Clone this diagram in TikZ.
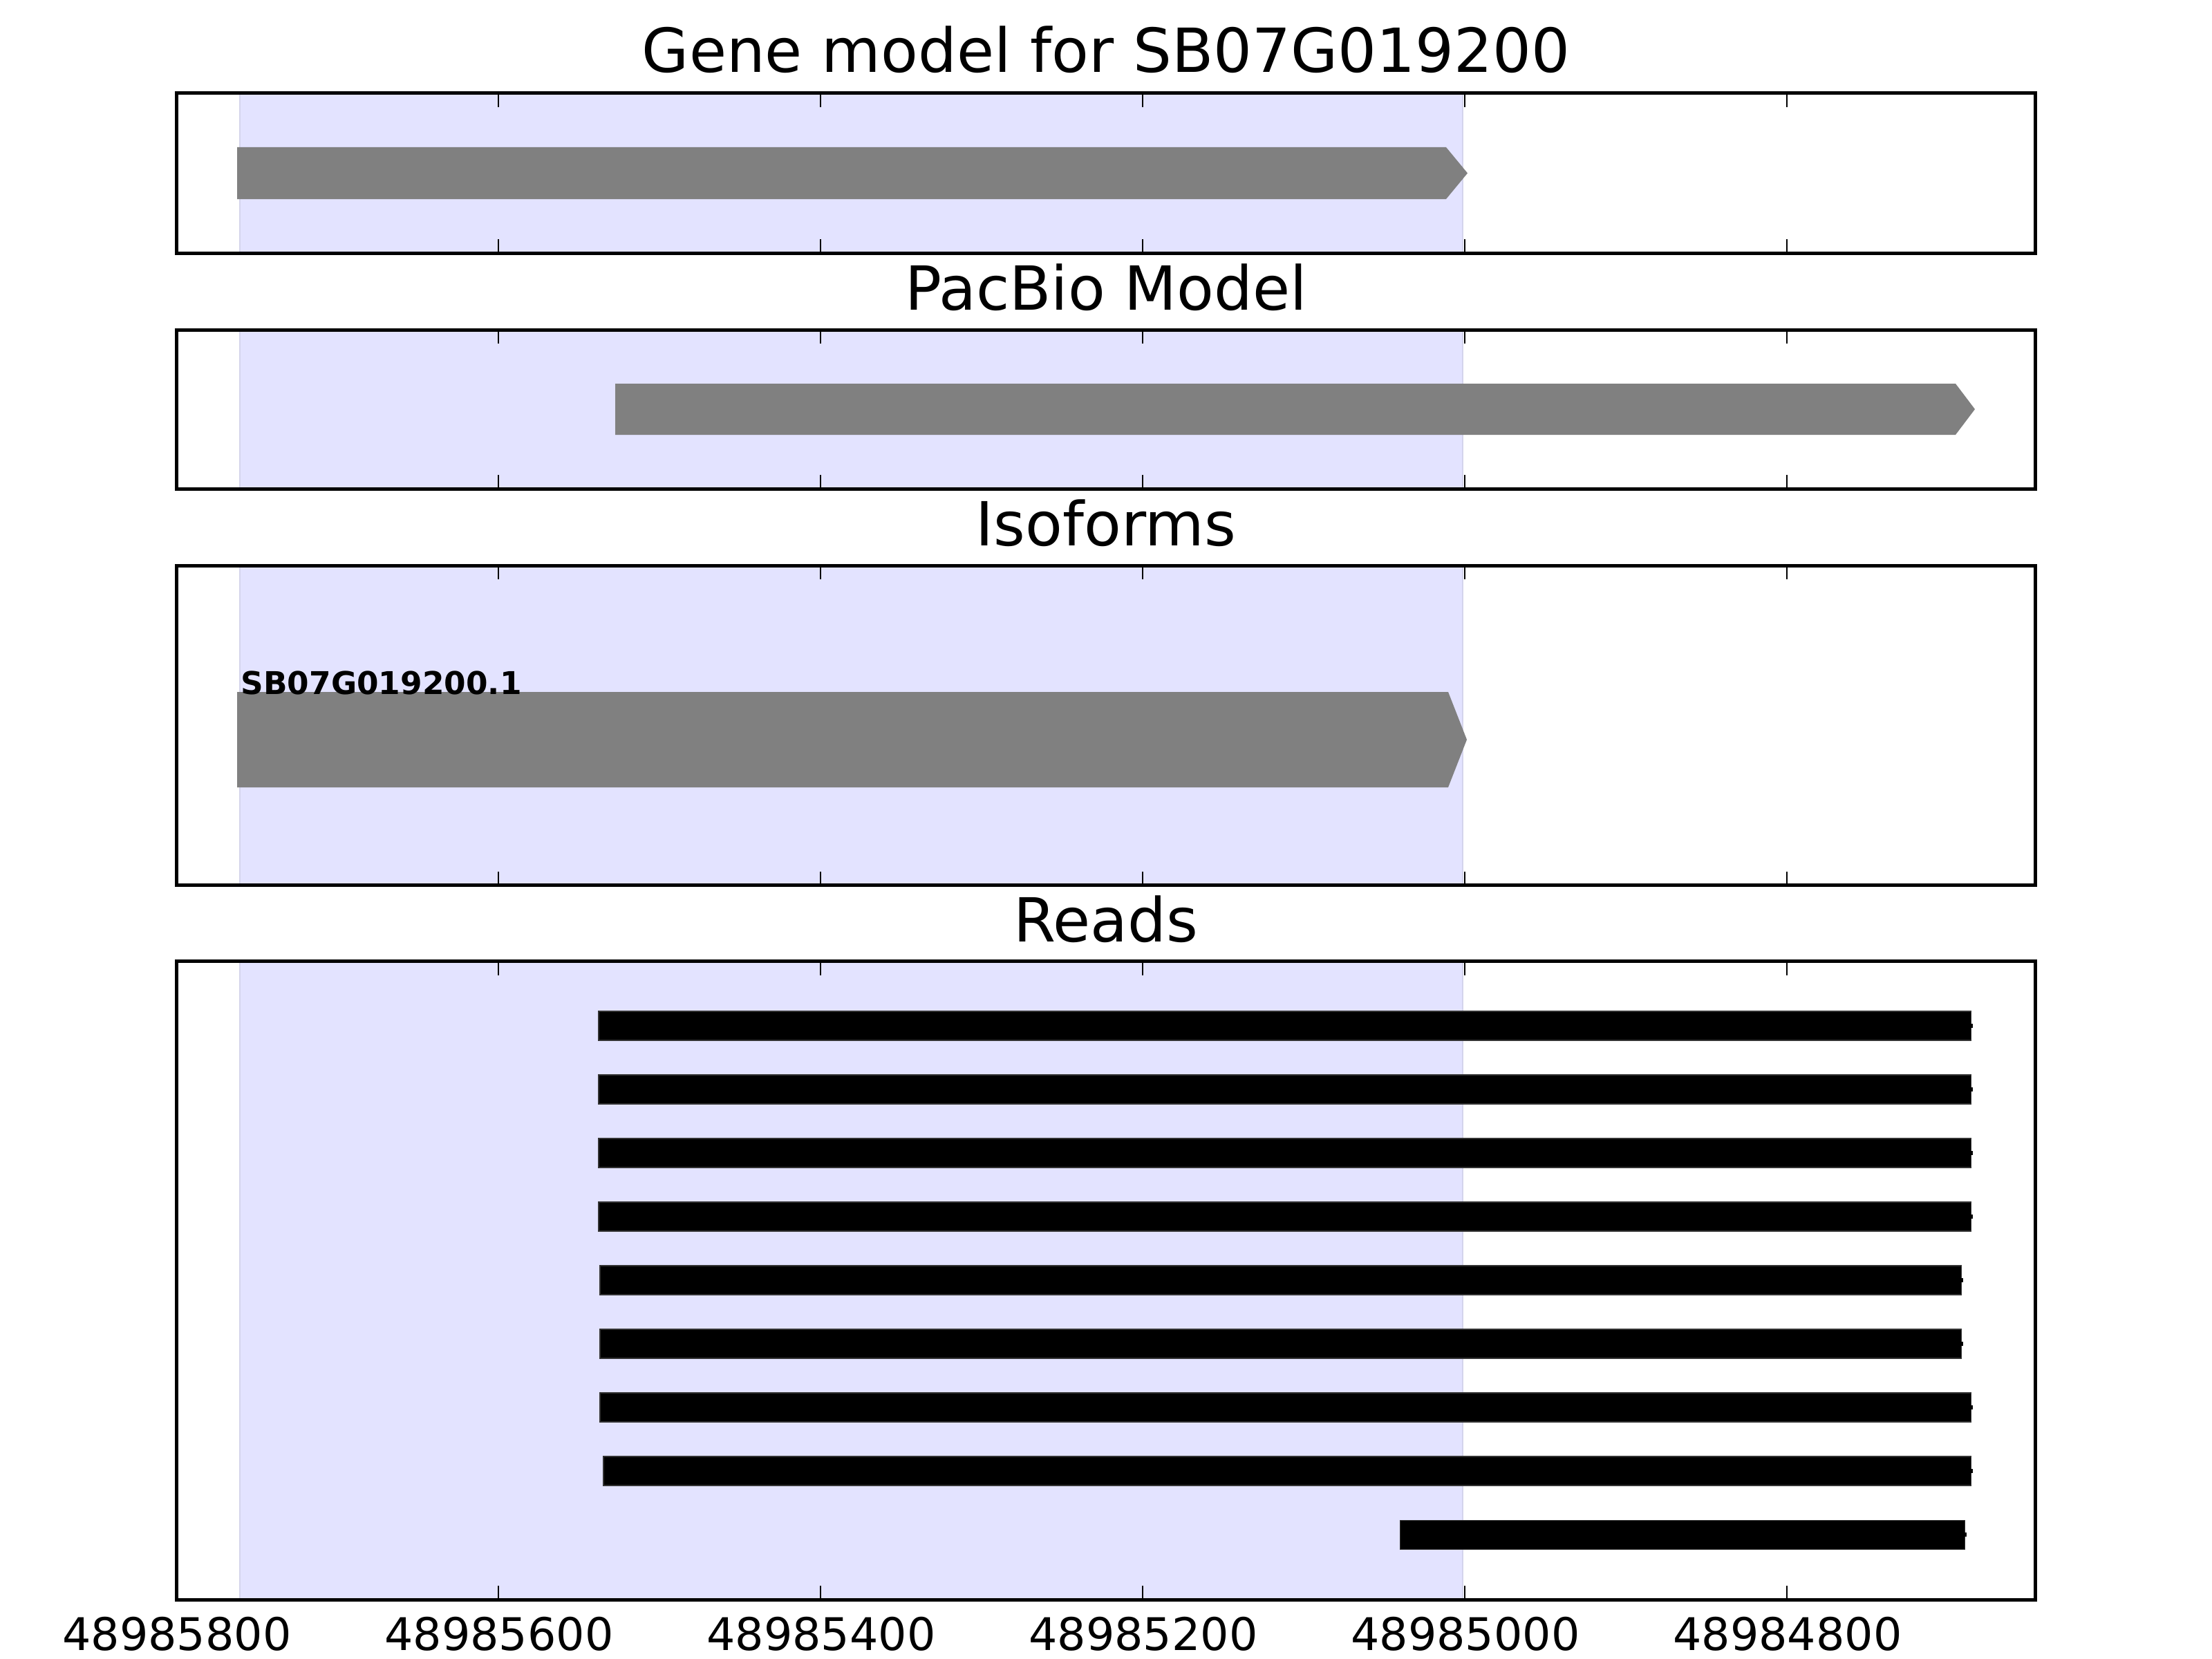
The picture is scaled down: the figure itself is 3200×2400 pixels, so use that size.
\documentclass[tikz,border=0pt]{standalone}
\usepackage{fontspec}
\setmainfont{DejaVu Sans}
\usetikzlibrary{positioning,backgrounds}

\begin{document}
\begin{tikzpicture}[
    x=0.01cm, y=-0.01cm,
    panel/.style={draw, line width=1.4pt, inner sep=0pt, outer sep=0pt, minimum width=26.88cm},
    paneltitle/.style={inner sep=0pt, font=\fontsize{25}{30}\selectfont},
    ticklabel/.style={inner sep=0pt, anchor=base, font=\fontsize{18.5}{22}\selectfont},
    isolabel/.style={inner sep=0pt, anchor=base west, font=\bfseries\fontsize{12.9}{15}\selectfont},
    tickmark/.style={line width=0.65pt},
    spanfill/.style={fill={rgb,255:red,227;green,227;blue,255}, draw={rgb,255:red,212;green,212;blue,236}, line width=0.6pt},
    genebar/.style={fill=gray},
    readbar/.style={fill=black, draw=black!80, line width=0.3pt}
]
\useasboundingbox (0,0) rectangle (3200,2400);
\node[panel, minimum height=2.31cm] (genepanel) at (1600,250.5) {};
\node[panel, minimum height=2.30cm, below=1.11cm of genepanel] (pacpanel) {};
\node[panel, minimum height=4.62cm, below=1.11cm of pacpanel] (isopanel) {};
\node[panel, minimum height=9.23cm, below=1.10cm of isopanel] (readpanel) {};
\node[paneltitle, above=0.28cm of genepanel] (genetitle) {Gene model for SB07G019200};
\node[paneltitle, above=0.27cm of pacpanel] (pactitle) {PacBio Model};
\node[paneltitle, above=0.27cm of isopanel] (isotitle) {Isoforms};
\node[paneltitle, above=0.26cm of readpanel] (readtitle) {Reads};
\coordinate (spanL) at (347,0);
\coordinate (spanR) at (2116,0);
\begin{scope}[on background layer]
\foreach \p in {genepanel,pacpanel,isopanel,readpanel}
  \filldraw[spanfill] (spanL |- \p.north) rectangle (spanR |- \p.south);
\end{scope}
\fill[genebar] (343,213) -- (2092,213) -- (2123,250.5) -- (2092,288) -- (343,288) -- cycle;
\fill[genebar] (890,555) -- (2829,555) -- (2857,592) -- (2829,629) -- (890,629) -- cycle;
\fill[genebar] (343,1001) -- (2095,1001) -- (2122,1070) -- (2095,1139) -- (343,1139) -- cycle;
\node[isolabel] (isoname) at (348,1004) {SB07G019200.1};
\foreach \l/\r/\y in {866/2851/1484, 866/2851/1576, 866/2851/1668, 866/2851/1760, 868/2837/1852, 868/2837/1944, 868/2851/2036, 873/2851/2128, 2025/2842/2220} {
  \filldraw[readbar] (\l,\y-21) rectangle (\r,\y+21);
  \fill (\r,\y-3) rectangle (\r+3,\y+3);
}
\foreach \p in {genepanel,pacpanel,isopanel,readpanel}
  \foreach \tx in {722,1188,1654,2120,2586} {
    \draw[tickmark] (\p.north west) ++(\tx-256,0) -- ++(0,20);
    \draw[tickmark] (\p.south west) ++(\tx-256,0) -- ++(0,-20);
  }
\foreach \tx/\lab in {256/48985800, 722/48985600, 1188/48985400, 1654/48985200, 2120/48985000, 2586/48984800}
  \node[ticklabel] (lab\lab) at (\tx,2387) {\lab};
\end{tikzpicture}
\end{document}
